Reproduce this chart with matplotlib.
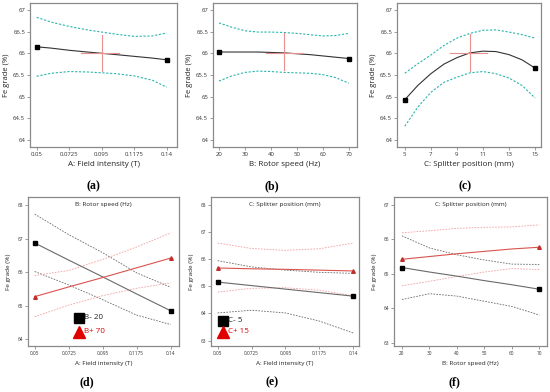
import matplotlib
matplotlib.use("Agg")
import matplotlib.pyplot as plt

plt.rcParams['font.family'] = ['Open Sans', 'DejaVu Sans']

# ---------------- data ----------------
# (a) Field intensity
a_x = [0.05, 0.06, 0.0725, 0.085, 0.095, 0.105, 0.1175, 0.13, 0.14]
a_mean = [66.15, 66.12, 66.07, 66.03, 66.00, 65.97, 65.93, 65.89, 65.85]
a_up = [66.83, 66.72, 66.62, 66.54, 66.49, 66.44, 66.39, 66.40, 66.47]
a_lo = [65.47, 65.54, 65.58, 65.57, 65.55, 65.53, 65.48, 65.38, 65.22]
a_ticks = [0.05, 0.0725, 0.095, 0.1175, 0.14]
a_ticklabels = ['0.05', '0.0725', '0.095', '0.1175', '0.14']

# (b) Rotor speed
b_x = [20, 25, 30, 35, 40, 45, 50, 55, 60, 65, 70]
b_mean = [66.03, 66.03, 66.03, 66.03, 66.02, 66.01, 65.99, 65.97, 65.94, 65.91, 65.88]
b_up = [66.70, 66.60, 66.52, 66.49, 66.49, 66.48, 66.46, 66.43, 66.40, 66.41, 66.46]
b_lo = [65.36, 65.48, 65.56, 65.59, 65.58, 65.56, 65.55, 65.54, 65.51, 65.44, 65.31]
b_ticks = [20, 30, 40, 50, 60, 70]

# (c) Splitter position
c_x = [5, 6, 7, 8, 9, 10, 11, 12, 13, 14, 15]
c_mean = [64.93, 65.26, 65.53, 65.75, 65.90, 66.01, 66.05, 66.04, 65.97, 65.85, 65.66]
c_up = [65.54, 65.76, 65.96, 66.18, 66.35, 66.46, 66.53, 66.54, 66.49, 66.43, 66.35]
c_lo = [64.32, 64.76, 65.10, 65.33, 65.45, 65.55, 65.58, 65.53, 65.43, 65.26, 64.97]
c_ticks = [5, 7, 9, 11, 13, 15]

# (d) Field intensity x Rotor speed
d_x = [0.05, 0.0725, 0.095, 0.1175, 0.14]
d_lo_mean = [66.87, 66.36, 65.86, 65.35, 64.85]
d_lo_up = [67.73, 67.12, 66.58, 65.98, 65.55]
d_lo_lo = [66.02, 65.62, 65.18, 64.72, 64.44]
d_hi_mean = [65.27, 65.56, 65.84, 66.13, 66.42]
d_hi_up = [65.90, 66.05, 66.38, 66.75, 67.17]
d_hi_lo = [64.67, 65.02, 65.30, 65.52, 65.68]
d_ticks = [0.05, 0.0725, 0.095, 0.1175, 0.14]
d_yticks = [64, 65, 66, 67, 68]

# (e) Field intensity x Splitter position
e_x = [0.05, 0.0725, 0.095, 0.1175, 0.14]
e_lo_mean = [65.16, 65.03, 64.90, 64.77, 64.64]
e_lo_up = [65.95, 65.72, 65.60, 65.52, 65.48]
e_lo_lo = [64.02, 64.12, 64.02, 63.72, 63.28]
e_hi_mean = [65.68, 65.65, 65.63, 65.60, 65.57]
e_hi_up = [66.60, 66.40, 66.33, 66.39, 66.60]
e_hi_lo = [64.79, 64.93, 64.95, 64.86, 64.65]
e_yticks = [63, 64, 65, 66, 67, 68]

# (f) Rotor speed x Splitter position
f_x = [20, 30, 40, 50, 60, 70]
f_lo_mean = [65.18, 65.05, 64.93, 64.80, 64.68, 64.55]
f_lo_up = [66.10, 65.75, 65.55, 65.40, 65.28, 65.27]
f_lo_lo = [64.25, 64.42, 64.35, 64.20, 64.05, 63.80]
f_hi_mean = [65.42, 65.50, 65.58, 65.65, 65.72, 65.77]
f_hi_up = [66.19, 66.25, 66.32, 66.35, 66.36, 66.42]
f_hi_lo = [64.65, 64.78, 64.92, 65.05, 65.15, 65.12]
f_ticks = [20, 30, 40, 50, 60, 70]
f_yticks = [63, 64, 65, 66, 67]

top_yticks = [64, 64.5, 65, 65.5, 66, 66.5, 67]

# ---------------- styling ----------------
W, H = 550, 392
fig = plt.figure(figsize=(5.5, 3.92), dpi=100)

def px_axes(l, t, r, b):
    return fig.add_axes([l / W, 1 - b / H, (r - l) / W, (b - t) / H])

FRAME = '#8a8a8a'
CYAN = '#2bb5ad'
DARK = '#333333'
REDC = '#e89090'
GRAYD = '#6a6a6a'
RED = '#d9534f'
REDL = '#f2a0a0'

def style(ax, tick_fs):
    for s in ax.spines.values():
        s.set_color(FRAME)
        s.set_linewidth(0.9)
    ax.tick_params(axis='both', direction='out', length=2, width=0.6,
                   color=FRAME, labelsize=tick_fs, labelcolor='#333333', pad=1.5)

def top_panel(ax, x, mean, up, lo, xlim, xticks, xticklabels, xlabel, cx, cxr, cyr, label, lx):
    ax.plot(x, up, color=CYAN, lw=0.8, ls=(0, (2, 1.5)))
    ax.plot(x, lo, color=CYAN, lw=0.8, ls=(0, (2, 1.5)))
    ax.plot(x, mean, color=DARK, lw=0.8)
    ax.plot([x[0], x[-1]], [mean[0], mean[-1]], ls='none', marker='s', ms=3, color='black')
    ax.plot([cx, cx], cyr, color=REDC, lw=0.8)
    ax.plot(cxr, [66.0, 66.0], color=REDC, lw=0.8)
    ax.set_xlim(*xlim)
    ax.set_ylim(63.84, 67.16)
    ax.set_yticks(top_yticks)
    ax.set_yticklabels(['64', '64.5', '65', '65.5', '66', '66.5', '67'])
    ax.set_xticks(xticks)
    ax.set_xticklabels(xticklabels)
    style(ax, 4.3)
    ax.set_xlabel(xlabel, fontsize=5.8, labelpad=3, color='#222222')
    ax.set_ylabel('Fe grade (%)', fontsize=5.5, labelpad=2, color='#222222')
    fig.text(lx / W, 1 - 186 / H, label, ha='center', va='center',
             fontsize=8.5, family='Liberation Serif', fontweight='bold')

ax_a = px_axes(30, 3, 177, 147)
top_panel(ax_a, a_x, a_mean, a_up, a_lo, (0.0454, 0.1471), a_ticks, a_ticklabels,
          'A: Field intensity (T)', 0.095, [0.081, 0.107], [65.6, 66.43], '(a)', 93)

ax_b = px_axes(213, 3, 357, 147)
top_panel(ax_b, b_x, b_mean, b_up, b_lo, (17.7, 73.2), b_ticks, [str(t) for t in b_ticks],
          'B: Rotor speed (Hz)', 45, [38, 52], [65.62, 66.46], '(b)', 272)

ax_c = px_axes(397, 3, 541, 147)
top_panel(ax_c, c_x, c_mean, c_up, c_lo, (4.4, 15.46), c_ticks, [str(t) for t in c_ticks],
          'C: Splitter position (mm)', 10, [8.5, 11.3], [65.6, 66.45], '(c)', 465)

def bottom_panel(ax, x, lm, lu, ll, hm, hu, hl, xlim, ylim, xticks, xticklabels, yticks,
                 title, xlabel, label, lx, legend=None):
    for yy in (lu, ll):
        ax.plot(x, yy, color=GRAYD, lw=0.6, ls=(0, (2, 1.5)))
    for yy in (hu, hl):
        ax.plot(x, yy, color=REDL, lw=0.6, ls=(0, (2, 1.5)))
    ax.plot(x, lm, color=GRAYD, lw=0.8)
    ax.plot(x, hm, color=RED, lw=0.8)
    ax.plot([x[0], x[-1]], [lm[0], lm[-1]], ls='none', marker='s', ms=2.6, color='black')
    ax.plot([x[0], x[-1]], [hm[0], hm[-1]], ls='none', marker='^', ms=2.6, color='#c0302b')
    ax.set_xlim(*xlim)
    ax.set_ylim(*ylim)
    ax.set_xticks(xticks)
    ax.set_xticklabels(xticklabels)
    ax.set_yticks(yticks)
    ax.set_yticklabels([str(t) for t in yticks])
    style(ax, 3.4)
    ax.set_xlabel(xlabel, fontsize=4.6, labelpad=4, color='#222222')
    ax.set_ylabel('Fe grade (%)', fontsize=4.6, labelpad=5, color='#222222')
    ax.text(0.5, 0.95, title, transform=ax.transAxes, ha='center', va='center',
            fontsize=4.6, color='#222222')
    if legend is not None:
        mx, tx, y1, y2, t1, t2 = legend
        ax.plot([mx], [y1], transform=ax.transAxes, marker='s', ms=7, color='black', clip_on=False)
        ax.plot([mx], [y2], transform=ax.transAxes, marker='^', ms=8, color='#e00000', clip_on=False)
        ax.text(tx, y1, t1, transform=ax.transAxes, ha='left', va='center', fontsize=5.8, color='#222222')
        ax.text(tx, y2, t2, transform=ax.transAxes, ha='left', va='center', fontsize=5.8, color='#e00000')
    fig.text(lx / W, 1 - 382 / H, label, ha='center', va='center',
             fontsize=8.5, family='Liberation Serif', fontweight='bold')

ax_d = px_axes(28, 197, 179, 346)
bottom_panel(ax_d, d_x, d_lo_mean, d_lo_up, d_lo_lo, d_hi_mean, d_hi_up, d_hi_lo,
             (0.0456, 0.1455), (63.8, 68.24), d_ticks, a_ticklabels, d_yticks,
             'B: Rotor speed (Hz)', 'A: Field intensity (T)', '(d)', 87,
             legend=(0.338, 0.372, 0.188, 0.094, 'B- 20', 'B+ 70'))

ax_e = px_axes(211, 197, 359, 346)
bottom_panel(ax_e, e_x, e_lo_mean, e_lo_up, e_lo_lo, e_hi_mean, e_hi_up, e_hi_lo,
             (0.0456, 0.1438), (62.8, 68.3), d_ticks, a_ticklabels, e_yticks,
             'C: Splitter position (mm)', 'A: Field intensity (T)', '(e)', 272,
             legend=(0.083, 0.113, 0.17, 0.096, 'C- 5', 'C+ 15'))

ax_f = px_axes(394, 197, 547, 346)
bottom_panel(ax_f, f_x, f_lo_mean, f_lo_up, f_lo_lo, f_hi_mean, f_hi_up, f_hi_lo,
             (17.1, 72.8), (62.9, 67.23), f_ticks, [str(t) for t in f_ticks], f_yticks,
             'C: Splitter position (mm)', 'B: Rotor speed (Hz)', '(f)', 454)

fig.savefig('out.png', dpi=100)
